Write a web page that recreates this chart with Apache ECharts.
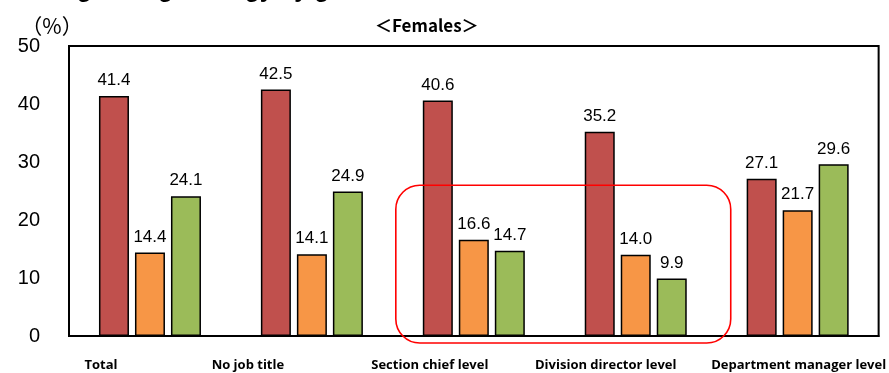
<!DOCTYPE html>
<html>
<head>
<meta charset="utf-8">
<script src="https://cdn.jsdelivr.net/npm/echarts@6/dist/echarts.min.js"></script>
<style>
  html, body { margin: 0; padding: 0; background: #fff; }
  #chart { width: 889px; height: 373px; }
</style>
</head>
<body>
<div id="chart"></div>
<script>
// Job levels along the x axis
const categories = ['Total', 'No job title', 'Section chief level', 'Division director level', 'Department manager level'];
// Shares (%) for the three answer groups, females
const seriesRed = [41.4, 42.5, 40.6, 35.2, 27.1];
const seriesOrange = [14.4, 14.1, 16.6, 14.0, 21.7];
const seriesGreen = [24.1, 24.9, 14.7, 9.9, 29.6];
// Y axis range
const yTicks = [0, 10, 20, 30, 40, 50];
// Horizontal nudges for the category labels (px, negative = left)
const labelShift = [-49, -64, -44, -30, 1];

const chart = echarts.init(document.getElementById('chart'));

const valueLabel = {
  show: true,
  position: 'top',
  distance: 7,
  color: '#000',
  fontSize: 17,
  fontFamily: 'Liberation Sans, Arial, sans-serif',
  formatter: p => p.value.toFixed(1)
};

function barSeries(name, data, color) {
  return {
    name: name,
    type: 'bar',
    data: data,
    barWidth: 30,
    barGap: '20%',
    itemStyle: { color: color, borderColor: '#000', borderWidth: 1.5 },
    label: valueLabel,
    animation: false
  };
}

chart.setOption({
  animation: false,
  title: [
    {
      text: 'Using strong strategy by gender',
      left: 20, top: -27,
      textStyle: { fontSize: 24, fontWeight: 'bold', color: '#000', fontFamily: 'Liberation Sans, Arial, sans-serif' }
    },
    {
      text: '＜Females＞',
      left: 370, top: 12,
      textStyle: { fontSize: 17, fontWeight: 'bold', color: '#000', fontFamily: "'Noto Sans CJK JP', sans-serif" }
    }
  ],
  grid: { left: 69, right: 9, top: 46, bottom: 37, show: true, borderColor: '#000', borderWidth: 2 },
  xAxis: {
    type: 'category',
    data: categories.map((c, i) => ({
      value: c,
      textStyle: {
        padding: labelShift[i] < 0 ? [0, -2 * labelShift[i], 0, 0] : [0, 0, 0, 2 * labelShift[i]]
      }
    })),
    axisLine: { lineStyle: { color: '#000', width: 2 } },
    axisTick: { show: false },
    axisLabel: {
      interval: 0,
      margin: 23,
      color: '#000',
      fontSize: 13,
      fontWeight: 'bold',
      fontFamily: "'Open Sans', 'Liberation Sans', sans-serif"
    }
  },
  yAxis: {
    type: 'value',
    min: yTicks[0],
    max: yTicks[yTicks.length - 1],
    interval: 10,
    name: '（%）',
    nameLocation: 'end',
    nameGap: 3,
    nameTextStyle: {
      color: '#000', fontSize: 21, fontFamily: "'Noto Sans CJK JP', sans-serif",
      padding: [0, 34, 0, 0]
    },
    axisLine: { show: true, lineStyle: { color: '#000', width: 2 } },
    axisTick: { show: false },
    splitLine: { show: false },
    axisLabel: {
      color: '#000',
      fontSize: 20,
      margin: 29,
      fontFamily: "'Liberation Sans Narrow', 'Liberation Sans', sans-serif"
    }
  },
  series: [
    barSeries('red', seriesRed, '#C0504D'),
    barSeries('orange', seriesOrange, '#F79646'),
    barSeries('green', seriesGreen, '#9BBB59')
  ]
});

// Rounded highlight around the section chief and division director groups
const c2 = chart.convertToPixel({ xAxisIndex: 0 }, categories[2]);
const c3 = chart.convertToPixel({ xAxisIndex: 0 }, categories[3]);
const yTop = chart.convertToPixel({ yAxisIndex: 0 }, 26.0);
const yBase = chart.convertToPixel({ yAxisIndex: 0 }, 0);
chart.setOption({
  graphic: [{
    type: 'rect',
    z: 100,
    shape: { x: c2 - 78, y: yTop, width: (c3 + 95) - (c2 - 78), height: yBase + 7 - yTop, r: 24 },
    style: { fill: 'none', stroke: '#FF0000', lineWidth: 1.6 }
  }]
});
</script>
</body>
</html>
